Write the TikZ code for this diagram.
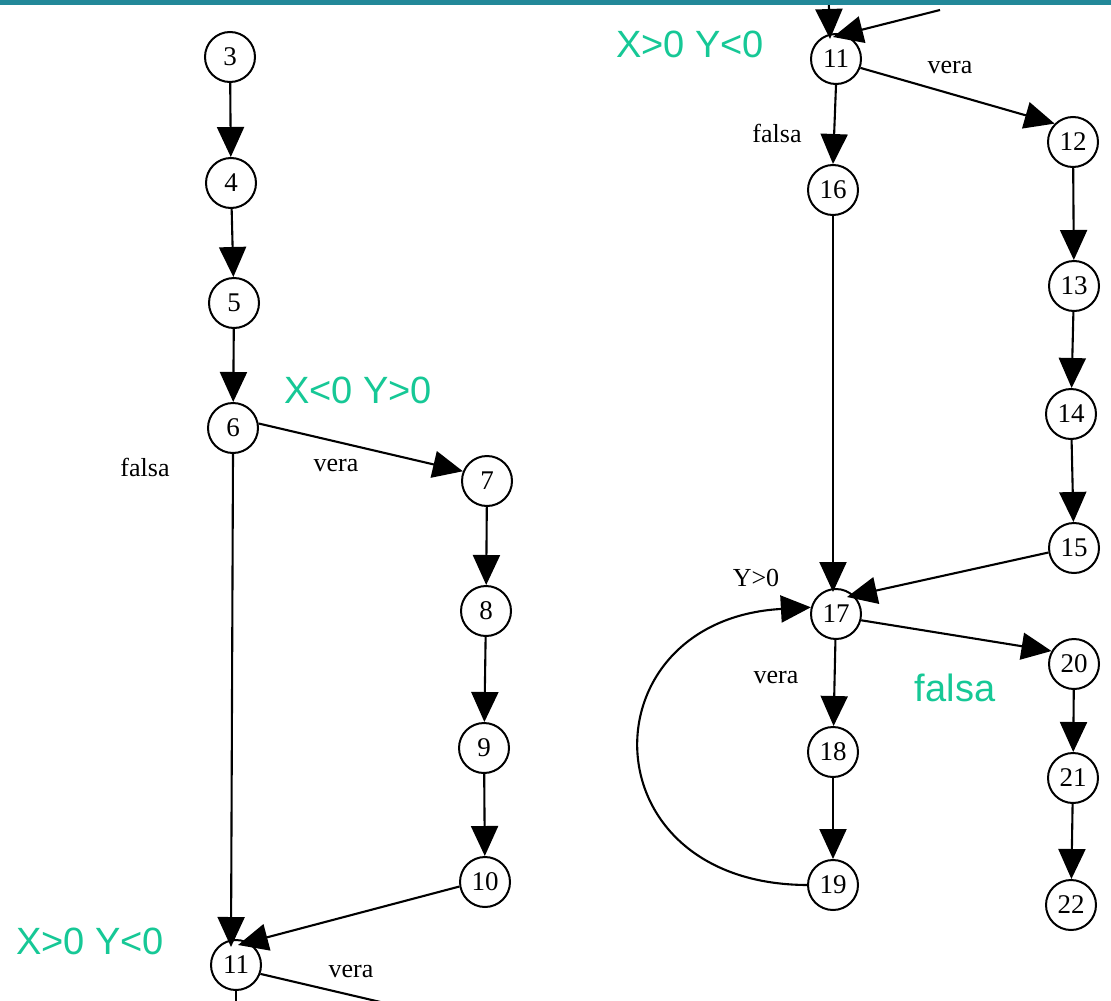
\documentclass[tikz,border=0pt]{standalone}
\usepackage{fontspec}
\setmainfont{Liberation Serif}
\newfontfamily\condfont{Liberation Sans}
\usetikzlibrary{arrows.meta}
\definecolor{barteal}{RGB}{34,136,153}
\definecolor{condgreen}{RGB}{22,200,150}
\tikzset{
  stmt/.style={circle, draw, line width=2pt, minimum size=50pt, inner sep=0pt,
               font=\fontsize{27}{27}\selectfont},
  flow/.style={line width=2.1pt, -{Triangle[length=30pt,width=27pt]}},
  plain/.style={line width=2.1pt},
  lbl/.style={font=\fontsize{26}{26}\selectfont, inner sep=0pt},
  cond/.style={font=\condfont\fontsize{38}{38}\selectfont, text=condgreen, inner sep=0pt}
}
\begin{document}
\begin{tikzpicture}[x=1pt, y=-1pt]
  \useasboundingbox (0,0) rectangle (1111,1001);
  \clip (0,0) rectangle (1111,1001);
  \fill[white] (0,0) rectangle (1111,1001);

  % left column
  \node[stmt] (n3)  at (230,57)  {3};
  \node[stmt] (n4)  at (231,183) {4};
  \node[stmt] (n5)  at (234,303) {5};
  \node[stmt] (n6)  at (233,428) {6};
  \node[stmt] (n7)  at (487,481) {7};
  \node[stmt] (n8)  at (486,611) {8};
  \node[stmt] (n9)  at (484,748) {9};
  \node[stmt] (n10) at (485,882) {10};
  \node[stmt] (n11b) at (236,965) {11};

  % right column
  \node[stmt] (n11t) at (836,59)  {11};
  \node[stmt] (n12) at (1073,142) {12};
  \node[stmt] (n13) at (1074,286) {13};
  \node[stmt] (n14) at (1071,414) {14};
  \node[stmt] (n15) at (1074,548) {15};
  \node[stmt] (n16) at (833,190)  {16};
  \node[stmt] (n17) at (836,614)  {17};
  \node[stmt] (n18) at (833,752)  {18};
  \node[stmt] (n19) at (833,885)  {19};
  \node[stmt] (n20) at (1074,664) {20};
  \node[stmt] (n21) at (1073,778) {21};
  \node[stmt] (n22) at (1071,905) {22};

  % free ends of edges leaving or entering the frame
  \coordinate (inA) at (828,-20);
  \coordinate (inB) at (940,10);
  \coordinate (outA) at (236,1030);
  \coordinate (outB) at (500,1030);

  % left edges
  \draw[flow] (n3) -- (n4);
  \draw[flow] (n4) -- (n5);
  \draw[flow] (n5) -- (n6);
  \draw[flow] (n6.10) -- (n7.158);
  \draw[flow] (n6.south) -- ([xshift=-5pt,yshift=-8pt]n11b.north);
  \draw[flow] (n7) -- (n8);
  \draw[flow] (n8) -- (n9);
  \draw[flow] (n9) -- (n10);
  \draw[flow] (n10.190) -- ([xshift=2pt,yshift=-6pt]n11b.north);
  \draw[plain] (n11b.south) -- (outA);
  \draw[plain] (n11b.-20) -- (outB);

  % right edges
  \draw[flow] (inA) -- ([xshift=-6pt,yshift=-6pt]n11t.north);
  \draw[flow] (inB) -- ([xshift=-3pt,yshift=-4pt]n11t.north);
  \draw[flow] (n11t.-20) -- (n12.135);
  \draw[flow] (n11t.south) -- (n16.north);
  \draw[flow] (n12) -- (n13);
  \draw[flow] (n13) -- (n14);
  \draw[flow] (n14) -- (n15);
  \draw[flow] (n15.190) -- ([xshift=11pt,yshift=-9pt]n17.north);
  \draw[flow] (n16.south) -- ([yshift=-4pt]n16.south |- n17.north);
  \draw[flow] (n17.-14) -- (n20.150);
  \draw[flow] (n17) -- (n18);
  \draw[flow] (n18) -- (n19);
  \draw[flow] (n19.west) .. controls (585,884) and (585,620) .. (n17.165);
  \draw[flow] (n20) -- (n21);
  \draw[flow] (n21) -- (n22);

  % edge labels
  \node[lbl] (lf6)  at (145,467) {falsa};
  \node[lbl] (lv6)  at (336,465) {vera};
  \node[lbl] (lv11b) at (351,971) {vera};
  \node[lbl] (lv11t) at (950,68)  {vera};
  \node[lbl] (lf11t) at (777,133) {falsa};
  \node[lbl] (ly17) at (756,578) {Y>0};
  \node[lbl] (lv17) at (776,677) {vera};

  % condition notes
  \node[cond] (c1) at (358,390) {X<0 Y>0};
  \node[cond] (c2) at (690,44)  {X>0 Y<0};
  \node[cond] (c3) at (90,941)  {X>0 Y<0};
  \node[cond] (c4) at (955,688) {falsa};

  % title bar edge
  \fill[barteal] (0,0) rectangle (1111,5);
\end{tikzpicture}
\end{document}
